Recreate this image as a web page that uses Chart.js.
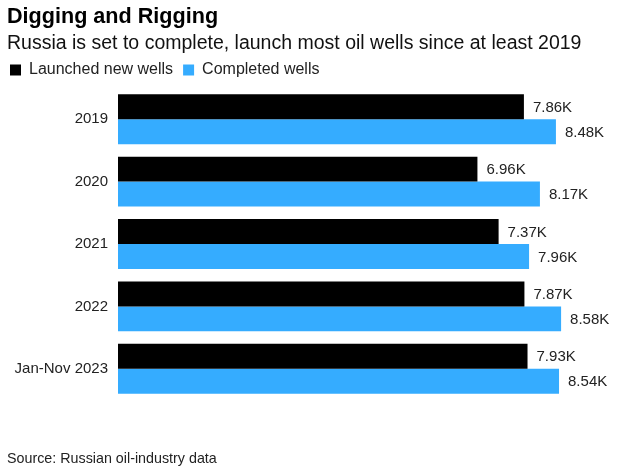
<!DOCTYPE html>
<html>
<head>
<meta charset="utf-8">
<script src="https://cdn.jsdelivr.net/npm/chart.js@4/dist/chart.umd.min.js"></script>
<style>
  body { margin: 0; background: #fff; font-family: "Liberation Sans", Arial, sans-serif; }
  .wrap { position: relative; width: 621px; height: 474px; }
  canvas { position: absolute; left: 0; top: 0; }
  .title { position: absolute; left: 7px; top: 3px; font-size: 21.6px; font-weight: bold; color: #000; }
  .subtitle { position: absolute; left: 7px; top: 31px; font-size: 19.5px; color: #111; }
  .source { position: absolute; left: 7px; top: 450px; font-size: 14.3px; color: #222; }
</style>
</head>
<body>
<div class="wrap">
  <canvas id="chart" width="621" height="474"></canvas>
  <div class="title">Digging and Rigging</div>
  <div class="subtitle">Russia is set to complete, launch most oil wells since at least 2019</div>
  <div class="source">Source: Russian oil-industry data</div>
</div>
<script>
const categories = ['2019', '2020', '2021', '2022', 'Jan-Nov 2023'];
const launchedWells = [7860, 6960, 7370, 7870, 7930];
const completedWells = [8480, 8170, 7960, 8580, 8540];

const ctx = document.getElementById('chart').getContext('2d');

// labels like "7.86K" at the end of every bar
const barLabels = {
  id: 'barLabels',
  afterDatasetsDraw(chart) {
    const c = chart.ctx;
    c.save();
    c.font = '15px "Liberation Sans", Arial, sans-serif';
    c.fillStyle = '#222';
    c.textAlign = 'left';
    c.textBaseline = 'middle';
    chart.data.datasets.forEach((ds, i) => {
      chart.getDatasetMeta(i).data.forEach((bar, j) => {
        c.fillText(`${(ds.data[j] / 1000).toFixed(2)}K`, bar.x + 9, bar.y + 1);
      });
    });
    c.restore();
  },
};

const chart = new Chart(ctx, {
  type: 'bar',
  data: {
    labels: categories,
    datasets: [{
      label: 'Launched new wells',
      backgroundColor: '#000000',
      data: launchedWells,
    }, {
      label: 'Completed wells',
      backgroundColor: '#35acff',
      data: completedWells,
    }],
  },
  options: {
    indexAxis: 'y',
    responsive: false,
    animation: false,
    layout: { padding: { top: 52, bottom: 74, left: 0, right: 0 } },
    categoryPercentage: 0.8,
    barPercentage: 1.0,
    scales: {
      x: { display: false, min: 0, max: 9740 },
      y: {
        grid: { display: false, drawTicks: false },
        border: { display: false },
        ticks: {
          color: '#222',
          padding: 10,
          font: { size: 15, family: '"Liberation Sans", Arial, sans-serif' },
        },
        afterFit(scale) { scale.width = 118; },
      },
    },
    plugins: {
      legend: {
        align: 'start',
        labels: {
          boxWidth: 11,
          boxHeight: 11,
          padding: 10,
          color: '#222',
          font: { size: 16, family: '"Liberation Sans", Arial, sans-serif' },
        },
      },
      tooltip: { enabled: false },
    },
  },
  plugins: [barLabels],
});
</script>
</body>
</html>
